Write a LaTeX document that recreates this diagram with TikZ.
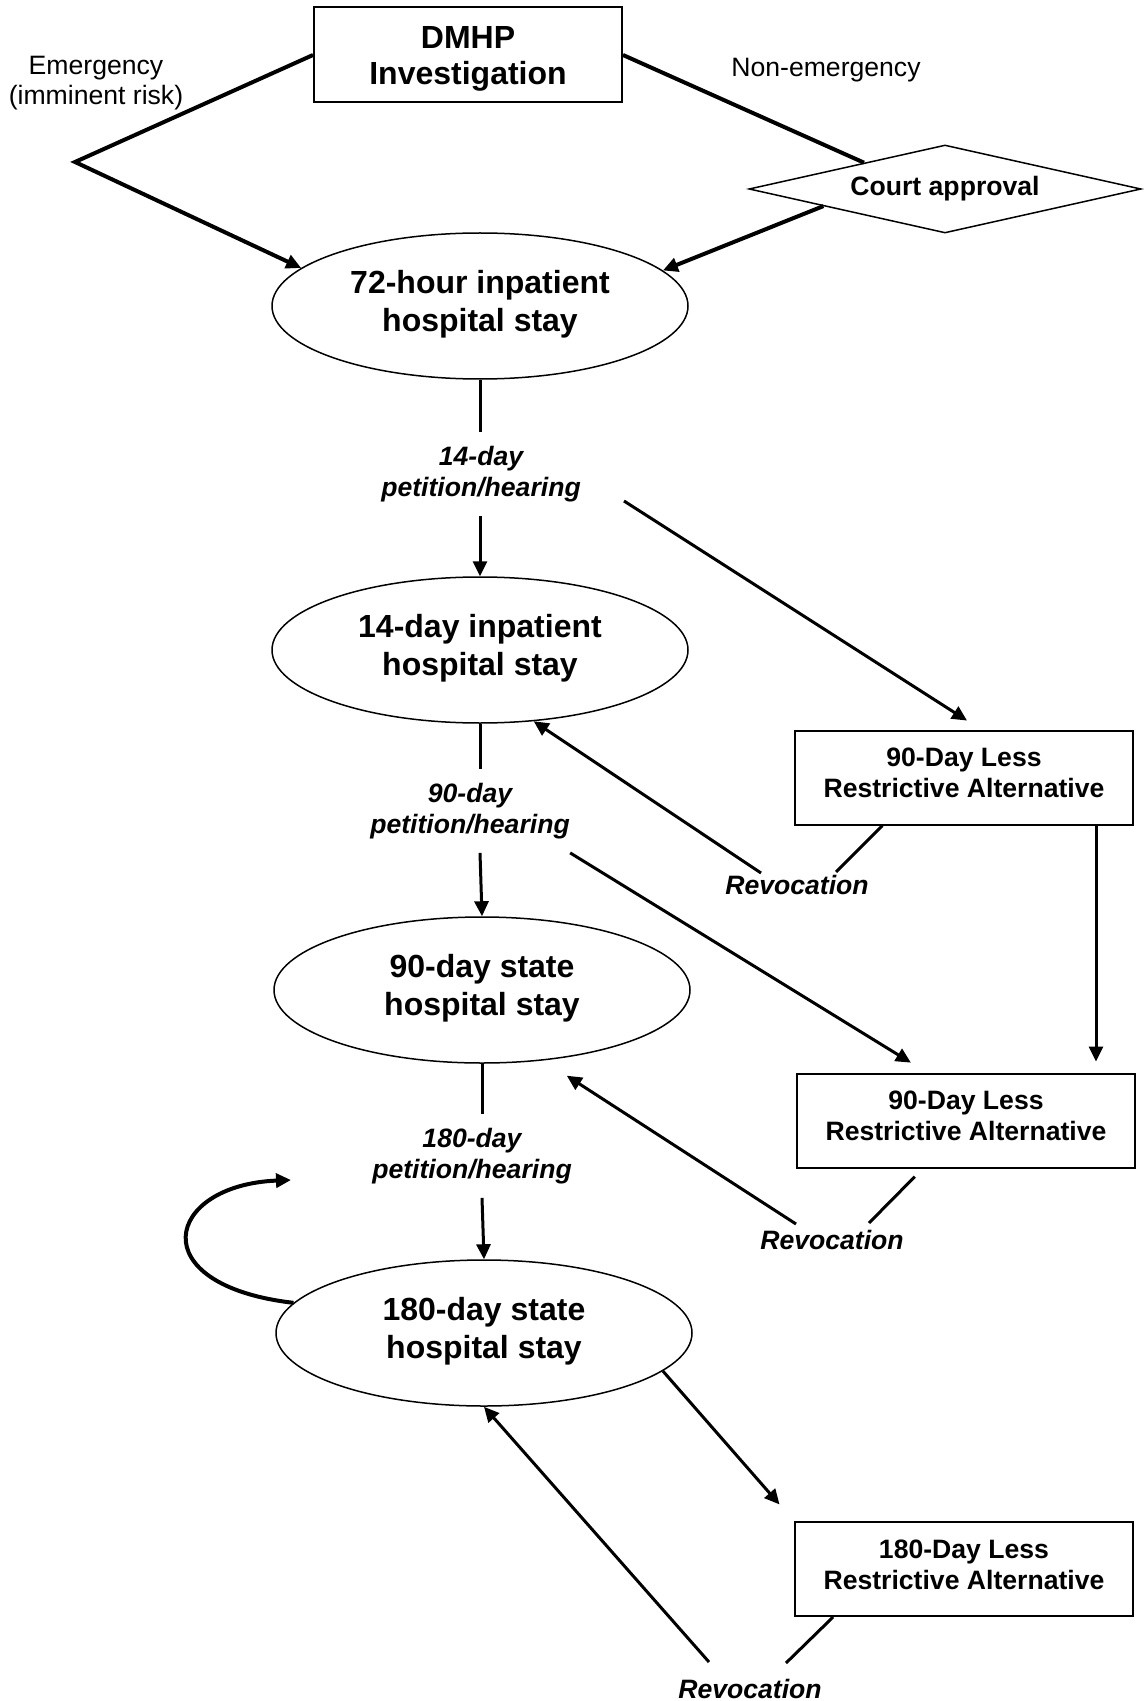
\documentclass[tikz,border=0pt]{standalone}
\usepackage{fontspec}
\setmainfont{Liberation Sans}
\usetikzlibrary{arrows.meta,calc,shapes.geometric,positioning}

\begin{document}
\begin{tikzpicture}[x=0.5pt, y=-0.5pt,
  >={Triangle[length=7.5pt, width=7pt]},
  stay/.style={ellipse, draw, line width=0.75pt, minimum width=208pt,
    minimum height=73pt, inner sep=0pt, align=center, text depth=5pt,
    font=\fontsize{16}{19}\selectfont\bfseries},
  lrabox/.style={rectangle, draw, line width=1pt, minimum width=169pt,
    minimum height=47pt, align=center, text depth=4.5pt,
    font=\fontsize{13.3}{15.5}\selectfont\bfseries},
  hearing/.style={align=center, inner xsep=0pt, inner ysep=6.8pt,
    font=\fontsize{13.3}{15.5}\selectfont\bfseries\itshape},
  revlabel/.style={font=\fontsize{13.3}{15.5}\selectfont\bfseries\itshape},
  route/.style={align=center, font=\fontsize{13.3}{15}\selectfont},
  conn/.style={line width=1.5pt},
  entry/.style={line width=2pt},
]
\useasboundingbox (0,0) rectangle (1144,1701);

% ---- Investigation and the two routes in ----
\node[draw, line width=1pt, minimum width=154pt, minimum height=47.5pt,
  align=center, text depth=0pt, font=\fontsize{16}{18}\selectfont\bfseries]
  (dmhp) at (468,55) {DMHP\\Investigation};
\node[route] (emerg) at (96,83) {Emergency\\(imminent risk)};
\node[route] (nonemerg) at (826,70) {Non-emergency};
\node[diamond, draw, line width=0.75pt, aspect=4.45, minimum width=196pt,
  minimum height=44pt, inner sep=0pt,
  font=\fontsize{13.3}{15.5}\selectfont\bfseries]
  (court) at (945,189) {Court approval};

% ---- Hospital stays ----
\node[stay] (s72)  at (480,306)  {72-hour inpatient\\hospital stay};
\node[stay] (s14)  at (480,650)  {14-day inpatient\\hospital stay};
\node[stay] (s90)  at (482,990)  {90-day state\\hospital stay};
\node[stay] (s180) at (484,1333) {180-day state\\hospital stay};

% ---- Petitions / hearings ----
\node[hearing] (h14)  at (481,474)  {14-day\\petition/hearing};
\node[hearing] (h90)  at (470,811)  {90-day\\petition/hearing};
\node[hearing] (h180) at (472,1156) {180-day\\petition/hearing};

% ---- Less restrictive alternatives ----
\node[lrabox] (lra1) at (964,777.5) {90-Day Less\\Restrictive Alternative};
\node[lrabox] (lra2) at (966,1120.5) {90-Day Less\\Restrictive Alternative};
\node[lrabox] (lra3) at (964,1569)  {180-Day Less\\Restrictive Alternative};

\node[revlabel] (rev1) at (797,885)  {Revocation};
\node[revlabel] (rev2) at (832,1240) {Revocation};
\node[revlabel] (rev3) at (750,1689) {Revocation};

% Free ends
\coordinate (bend)    at (75,162);    % corner of emergency route
\coordinate (k14)     at (624,501);   % start of 14-day -> LRA
\coordinate (rev1a)   at (761,873);
\coordinate (rev1b)   at (836,872);
\coordinate (rev2a)   at (796,1224);
\coordinate (rev2b)   at (869,1223);
\coordinate (rev3a)   at (709,1662);
\coordinate (rev3b)   at (786,1663);
\coordinate (loopend) at (291,1180);  % tip of renewal loop

% ---- Routes into the 72-hour stay ----
\draw[entry, ->] (dmhp.west) -- (bend) -- (s72.168);
\draw[entry] (dmhp.east) -- (court.162);
\draw[entry, ->] (court.188) -- (s72.11);

% ---- Main column ----
\draw[conn] (s72.south) -- (s72.south |- h14.north);
\draw[conn, ->] (s72.south |- h14.south) -- (s14.north);
\draw[conn] (s14.south) -- (s14.south |- h90.north);
\draw[conn, ->] (s14.south |- h90.south) -- (s90.north);
\draw[conn] (s90.south) -- (s90.south |- h180.north);
\draw[conn, ->] (s90.south |- h180.south) -- (s180.north);

% ---- Side branches ----
\draw[conn, ->, shorten >=8.3pt] (k14) -- ($(lra1.north west)!0.55!(lra1.north east)$);
\draw[conn, ->] (rev1a) -- (s14.-53);
\draw[conn] ($(lra1.south west)!0.26!(lra1.south east)$) -- (rev1b);

\draw[conn, ->, shorten >=9.4pt] (h90.south east) -- ($(lra2.north west)!0.385!(lra2.north east)$);
\draw[conn, ->, shorten >=5.5pt] ([xshift=66pt]lra1.south) -- ([xshift=65pt]lra2.north);
\draw[conn, ->, shorten >=14pt] (rev2a) -- (s90.-49);
\draw[conn, shorten <=5.7pt] ($(lra2.south west)!0.373!(lra2.south east)$) -- (rev2b);

\draw[entry, ->] (s180.171) .. controls (140,1285) and (165,1185) .. (loopend);
\draw[conn, ->, shorten >=11pt] (s180.-12) -- (lra3.north west);
\draw[conn, ->] (rev3a) -- (s180.south);
\draw[conn] ($(lra3.south west)!0.115!(lra3.south east)$) -- (rev3b);

\end{tikzpicture}
\end{document}
